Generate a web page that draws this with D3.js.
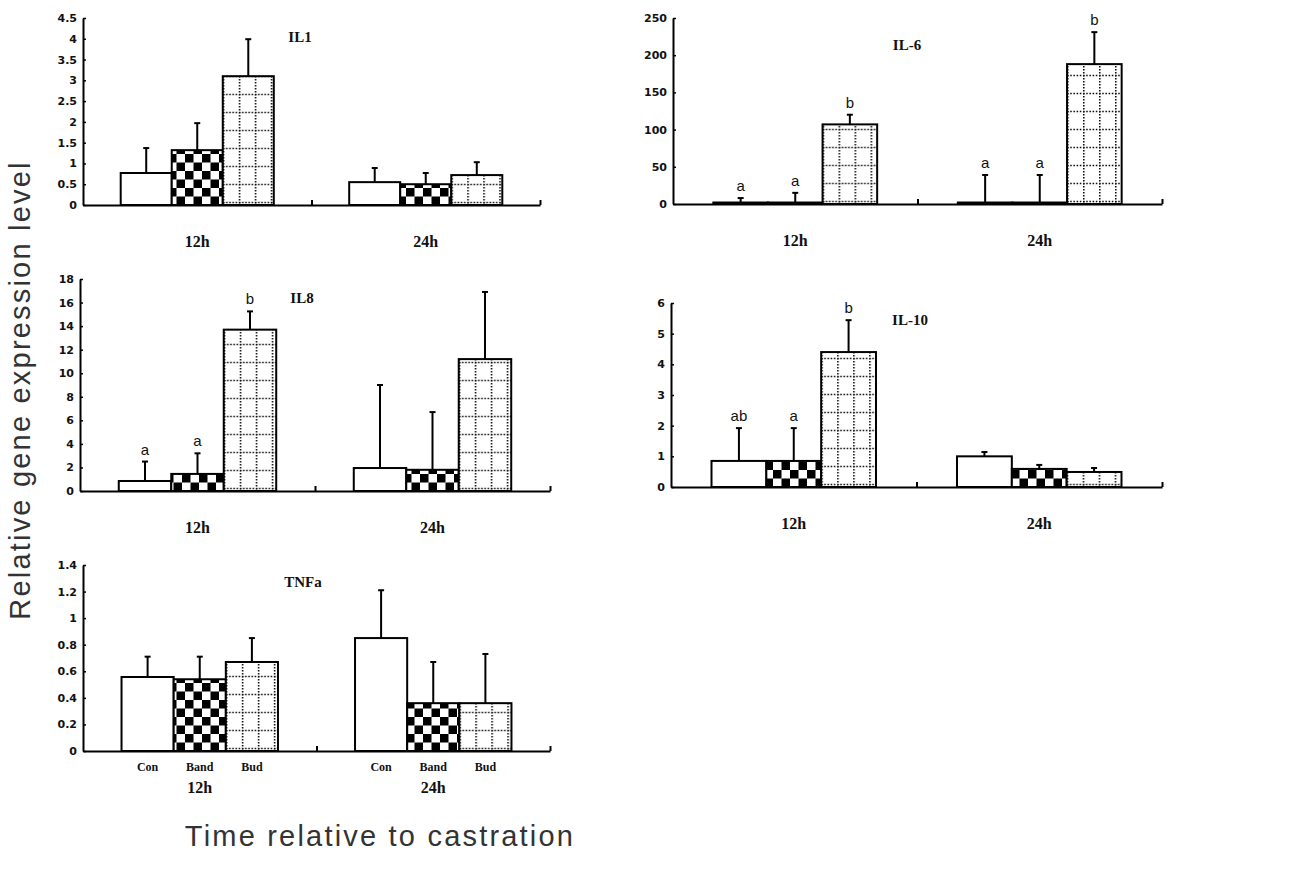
<!DOCTYPE html>
<html>
<head>
<meta charset="utf-8">
<script src="https://cdn.jsdelivr.net/npm/d3@7"></script>
<style>
  body { margin: 0; background: #fff; }
  svg { display: block; }
  .tick text { font-family: "DejaVu Sans", sans-serif; font-weight: bold; font-size: 11px; fill: #111; }
  .title, .glabel, .clabel { font-family: "Liberation Serif", serif; font-weight: bold; fill: #111; }
  .sig { font-family: "Liberation Sans", sans-serif; font-size: 15px; fill: #111; }
  .axtitle { font-family: "Liberation Sans", sans-serif; font-size: 29px; letter-spacing: 2.2px; fill: #333; }
</style>
</head>
<body>
<div id="chart"></div>
<script>
const groups = ["12h", "24h"];
const treatments = ["Con", "Band", "Bud"];

// mean and upper error per gene, [12h, 24h] x [Con, Band, Bud]
const il1Mean = [[0.77, 1.32, 3.1], [0.55, 0.5, 0.72]];
const il1Err = [[1.37, 1.97, 3.99], [0.89, 0.77, 1.03]];
const il6Mean = [[2, 2, 107], [2, 2, 188]];
const il6Err = [[8, 15, 120], [39, 39, 231]];
const il8Mean = [[0.85, 1.45, 13.7], [1.95, 1.8, 11.2]];
const il8Err = [[2.5, 3.2, 15.25], [9.0, 6.7, 16.9]];
const il10Mean = [[0.85, 0.85, 4.4], [1.0, 0.59, 0.49]];
const il10Err = [[1.92, 1.92, 5.44], [1.14, 0.72, 0.62]];
const tnfMean = [[0.557, 0.54, 0.67], [0.85, 0.36, 0.36]];
const tnfErr = [[0.71, 0.71, 0.85], [1.21, 0.67, 0.73]];

// significance letters
const il6Sig = [["a", "a", "b"], ["a", "a", "b"]];
const il8Sig = [["a", "a", "b"], ["", "", ""]];
const il10Sig = [["ab", "a", "b"], ["", "", ""]];

const il1Ticks = [0, 0.5, 1, 1.5, 2, 2.5, 3, 3.5, 4, 4.5];
const il6Ticks = [0, 50, 100, 150, 200, 250];
const il8Ticks = [0, 2, 4, 6, 8, 10, 12, 14, 16, 18];
const il10Ticks = [0, 1, 2, 3, 4, 5, 6];
const tnfTicks = [0, 0.2, 0.4, 0.6, 0.8, 1, 1.2, 1.4];

const panels = [
  { name: "IL1", mean: il1Mean, err: il1Err, sig: null, ticks: il1Ticks,
    x0: 83, x1: 540, yTop: 18, y0: 205, tx: 300, ty: 37 },
  { name: "IL-6", mean: il6Mean, err: il6Err, sig: il6Sig, ticks: il6Ticks,
    x0: 673, x1: 1162, yTop: 18, y0: 204, tx: 907, ty: 45 },
  { name: "IL8", mean: il8Mean, err: il8Err, sig: il8Sig, ticks: il8Ticks,
    x0: 80, x1: 550, yTop: 279, y0: 491, tx: 302, ty: 298 },
  { name: "IL-10", mean: il10Mean, err: il10Err, sig: il10Sig, ticks: il10Ticks,
    x0: 671, x1: 1162, yTop: 303, y0: 487, tx: 910, ty: 320 },
  { name: "TNFa", mean: tnfMean, err: tnfErr, sig: null, ticks: tnfTicks,
    x0: 83, x1: 550, yTop: 565, y0: 751, tx: 303, ty: 582, catLabels: true }
];

const svg = d3.select("#chart")
  .append("svg")
  .attr("width", 1302)
  .attr("height", 884);

const defs = svg.append("defs");

panels.forEach((p, pi) => {
  const g = svg.append("g");

  const y = d3.scaleLinear()
    .domain([0, d3.max(p.ticks)])
    .range([p.y0, p.yTop]);

  const xGroup = d3.scaleBand()
    .domain(groups)
    .range([p.x0, p.x1]);

  const xBar = d3.scaleBand()
    .domain(treatments)
    .range([xGroup.bandwidth() * 0.165, xGroup.bandwidth() * 0.835]);

  // checkerboard pattern for Band
  const chk = defs.append("pattern")
    .attr("id", `chk${pi}`)
    .attr("patternUnits", "userSpaceOnUse")
    .attr("width", 17).attr("height", 17)
    .attr("patternTransform", `translate(${p.x0},${p.y0})`);
  chk.append("rect").attr("width", 17).attr("height", 17).attr("fill", "#fff");
  chk.append("rect").attr("width", 8.5).attr("height", 8.5).attr("fill", "#000");
  chk.append("rect").attr("x", 8.5).attr("y", 8.5).attr("width", 8.5).attr("height", 8.5).attr("fill", "#000");

  groups.forEach((grp, gi) => {
    const gx = xGroup(grp);

    // dotted grid pattern for Bud, anchored to the bar
    const bx = gx + xBar("Bud");
    const dot = defs.append("pattern")
      .attr("id", `dot${pi}_${gi}`)
      .attr("patternUnits", "userSpaceOnUse")
      .attr("width", 16).attr("height", 18)
      .attr("patternTransform", `translate(${bx},${p.y0})`);
    dot.append("rect").attr("width", 16).attr("height", 18).attr("fill", "#fff");
    dot.append("line").attr("x1", 0.75).attr("x2", 0.75).attr("y1", 0).attr("y2", 18)
      .attr("stroke", "#000").attr("stroke-width", 1.5).attr("stroke-dasharray", "1.5 1.5");
    dot.append("line").attr("x1", 0).attr("x2", 16).attr("y1", 15.5).attr("y2", 15.5)
      .attr("stroke", "#000").attr("stroke-width", 1.5).attr("stroke-dasharray", "1.5 1.7");

    const rows = treatments.map((t, ti) => ({
      t, ti, v: p.mean[gi][ti], e: p.err[gi][ti], s: p.sig ? p.sig[gi][ti] : ""
    }));

    const fills = [ "#fff", `url(#chk${pi})`, `url(#dot${pi}_${gi})` ];

    // error bars
    g.selectAll(null)
      .data(rows)
      .enter()
      .append("line")
      .attr("x1", d => gx + xBar(d.t) + xBar.bandwidth() / 2)
      .attr("x2", d => gx + xBar(d.t) + xBar.bandwidth() / 2)
      .attr("y1", d => y(d.v))
      .attr("y2", d => y(d.e))
      .attr("stroke", "#000")
      .attr("stroke-width", 2);

    g.selectAll(null)
      .data(rows)
      .enter()
      .append("line")
      .attr("x1", d => gx + xBar(d.t) + xBar.bandwidth() / 2 - 3)
      .attr("x2", d => gx + xBar(d.t) + xBar.bandwidth() / 2 + 3)
      .attr("y1", d => y(d.e))
      .attr("y2", d => y(d.e))
      .attr("stroke", "#000")
      .attr("stroke-width", 2);

    // bars
    g.selectAll(null)
      .data(rows)
      .enter()
      .append("rect")
      .attr("x", d => gx + xBar(d.t))
      .attr("y", d => y(d.v))
      .attr("width", xBar.bandwidth())
      .attr("height", d => y(0) - y(d.v))
      .attr("fill", d => fills[d.ti])
      .attr("stroke", "#000")
      .attr("stroke-width", 2);

    // significance letters
    g.selectAll(null)
      .data(rows.filter(d => d.s))
      .enter()
      .append("text")
      .attr("class", "sig")
      .attr("x", d => gx + xBar(d.t) + xBar.bandwidth() / 2)
      .attr("y", d => y(d.e) - 7)
      .attr("text-anchor", "middle")
      .text(d => d.s);

    // group label
    g.append("text")
      .attr("class", "glabel")
      .attr("x", gx + xGroup.bandwidth() / 2)
      .attr("y", p.y0 + 42)
      .attr("text-anchor", "middle")
      .style("font-size", "16px")
      .text(grp);

    if (p.catLabels) {
      g.selectAll(null)
        .data(rows)
        .enter()
        .append("text")
        .attr("class", "clabel")
        .attr("x", d => gx + xBar(d.t) + xBar.bandwidth() / 2)
        .attr("y", p.y0 + 20)
        .attr("text-anchor", "middle")
        .style("font-size", "12px")
        .text(d => d.t);
    }
  });

  // axes
  const yAxis = d3.axisLeft(y)
    .tickValues(p.ticks)
    .tickFormat(d3.format("~g"))
    .tickSize(-3)
    .tickSizeOuter(0)
    .tickPadding(6);

  const ya = g.append("g")
    .attr("transform", `translate(${p.x0},0)`)
    .call(yAxis);
  ya.select(".domain").attr("stroke-width", 2);
  ya.selectAll(".tick line").attr("stroke-width", 1.5);

  const xLin = d3.scaleLinear().domain([0, groups.length]).range([p.x0, p.x1]);
  const xa = g.append("g")
    .attr("transform", `translate(0,${p.y0})`)
    .call(d3.axisBottom(xLin).tickValues([1, 2]).tickSize(-5).tickSizeOuter(0).tickFormat(""));
  xa.select(".domain").attr("stroke-width", 2);
  xa.selectAll(".tick line").attr("stroke-width", 2);

  // panel title
  g.append("text")
    .attr("class", "title")
    .attr("x", p.tx)
    .attr("y", p.ty + 5)
    .attr("text-anchor", "middle")
    .style("font-size", "15px")
    .text(p.name);
});

// shared axis titles
svg.append("text")
  .attr("class", "axtitle")
  .attr("transform", "translate(30,390) rotate(-90)")
  .attr("text-anchor", "middle")
  .text("Relative gene expression level");

svg.append("text")
  .attr("class", "axtitle")
  .attr("x", 380)
  .attr("y", 846)
  .attr("text-anchor", "middle")
  .text("Time relative to castration");
</script>
</body>
</html>
